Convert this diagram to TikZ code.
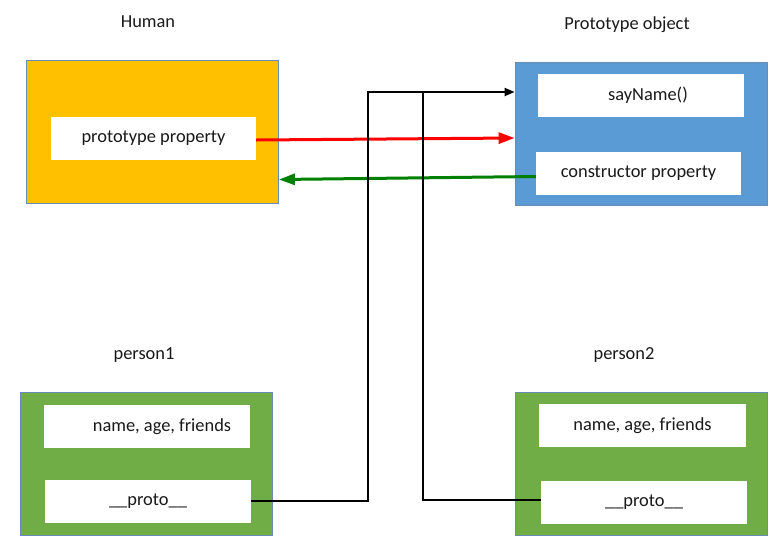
\documentclass[tikz,border=0pt]{standalone}
\usepackage{fontspec}
\setmainfont{Carlito}
\usepackage{tikz}
\usetikzlibrary{positioning, arrows.meta}
\definecolor{HumanFill}{HTML}{FFC000}
\definecolor{ProtoFill}{HTML}{5B9BD5}
\definecolor{PersonFill}{HTML}{70AD47}
\definecolor{BoxEdge}{HTML}{6A8CB4}
\definecolor{LinkRed}{HTML}{FF0000}
\definecolor{LinkGreen}{HTML}{008000}

\begin{document}
\begin{tikzpicture}[x=1pt,y=-1pt,
    every node/.style={font=\fontsize{18.4}{22}\selectfont, text=black!90},
    outer/.style={draw=BoxEdge, line width=0.8pt, inner sep=0pt, minimum width=252pt, minimum height=143pt},
    field/.style={fill=white, inner sep=0pt, minimum width=206pt, minimum height=43pt},
    redlink/.style={draw=LinkRed, line width=3pt, -{Triangle[length=16pt,width=11pt]}},
    greenlink/.style={draw=LinkGreen, line width=3pt, -{Triangle[length=16pt,width=11pt]}},
    plink/.style={draw=black, line width=2pt}]
\useasboundingbox (0,0) rectangle (780,550);

\node (humantitle) at (148,22) {Human};
\node (prototitle) at (627,25) {Prototype object};
\node (p1title) at (144,355) {person1};
\node (p2title) at (624,355) {person2};

\node[outer, fill=HumanFill] (human) at (152.5,131.5) {};
\node[field, minimum width=205pt] (protoprop) at (153.5,138.5) {prototype property};

\node[outer, fill=ProtoFill] (protoobj) at (641,133.5) {};
\node[field] (sayname) at (641,95) {\hspace*{14pt}sayName()};
\node[field, minimum width=205pt] (ctorprop) at (638.5,173.5) {constructor property};

\node[outer, fill=PersonFill] (person1) at (146,463.5) {};
\node[field] (p1name) at (147,426.5) {\hspace*{30pt}name, age, friends};
\node[field] (p1proto) at (148,501) {\_\_proto\_\_};

\node[outer, fill=PersonFill] (person2) at (641,463.5) {};
\node[field, minimum width=207pt] (p2name) at (642.5,425.5) {name, age, friends};
\node[field] (p2proto) at (644,502.5) {\_\_proto\_\_};

\coordinate (bend1) at (368,92);
\coordinate (bend2) at (423,92);

\draw[redlink] ([yshift=-1.5pt]protoprop.east) -- ([yshift=-4.5pt]protoobj.west);
\draw[greenlink] ([yshift=-3pt]ctorprop.west) -- ([yshift=-48pt]human.east);
\draw[plink, -{Triangle[length=10pt,width=8pt]}] (p1proto.east) -| (bend1) -- (bend1 -| protoobj.west);
\draw[plink] ([yshift=3pt]p2proto.west) -| (bend2);
\end{tikzpicture}
\end{document}
